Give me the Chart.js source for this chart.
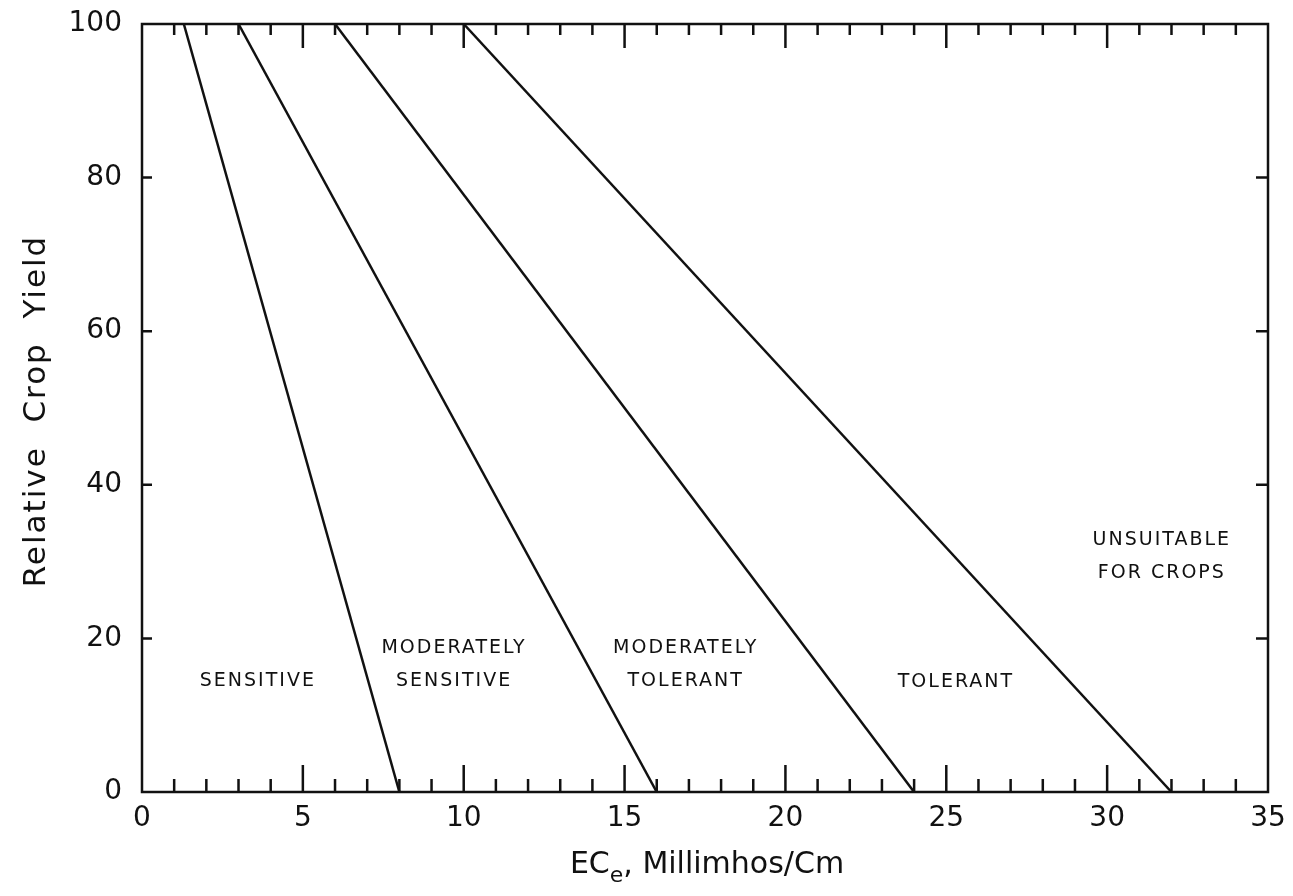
<!DOCTYPE html>
<html>
<head>
<meta charset="utf-8">
<script src="https://cdn.jsdelivr.net/npm/chart.js@4.4.1/dist/chart.umd.min.js"></script>
<style>
  html, body { margin: 0; padding: 0; background: #fff; }
  #wrap { width: 1293px; height: 896px; }
</style>
</head>
<body>
<div id="wrap"><canvas id="chart" width="1293" height="896"></canvas></div>
<script>
// salinity classes: yield 100% at threshold EC, 0% at zero-yield EC
const classNames = ['Sensitive', 'Moderately sensitive', 'Moderately tolerant', 'Tolerant'];
const thresholdEC = [1.3, 3, 6, 10];
const zeroYieldEC = [8, 16, 24, 32];
const yieldAtThreshold = [100, 100, 100, 100];

const xTickLabels = [0, 5, 10, 15, 20, 25, 30, 35];
const yTickLabels = [0, 20, 40, 60, 80, 100];

// zone labels (text lines and where they sit, in data units)
const zoneLabels = [
    { lines: ['SENSITIVE'], x: 3.6, y: 14.5 },
    { lines: ['MODERATELY', 'SENSITIVE'], x: 9.7, y: 16.6 },
    { lines: ['MODERATELY', 'TOLERANT'], x: 16.9, y: 16.6 },
    { lines: ['TOLERANT'], x: 25.3, y: 14.3 },
    { lines: ['UNSUITABLE', 'FOR CROPS'], x: 31.7, y: 30.7 }
];

const FONT = '"DejaVu Sans", sans-serif';

const datasets = classNames.map((name, i) => ({
    label: name,
    data: [
        { x: thresholdEC[i], y: yieldAtThreshold[i] },
        { x: zeroYieldEC[i], y: 0 }
    ],
    borderColor: '#111',
    borderWidth: 2.5,
    pointRadius: 0,
    fill: false,
    tension: 0
}));

// frame, inward ticks, axis titles and zone labels
const framePlugin = {
    id: 'frame',
    afterDraw(chart) {
        const ctx = chart.ctx;
        const xs = chart.scales.x;
        const ys = chart.scales.y;
        const area = chart.chartArea;

        ctx.save();
        ctx.strokeStyle = '#111';
        ctx.lineWidth = 2.5;
        ctx.strokeRect(area.left, area.top, area.right - area.left, area.bottom - area.top);

        // x ticks every unit, longer at every 5
        for (let v = 1; v < 35; v++) {
            const px = xs.getPixelForValue(v);
            const major = v % 5 === 0;
            ctx.beginPath();
            ctx.moveTo(px, area.top);
            ctx.lineTo(px, area.top + (major ? 24 : 11));
            ctx.moveTo(px, area.bottom);
            ctx.lineTo(px, area.bottom - (major ? 27 : 13));
            ctx.stroke();
        }
        // y ticks on both sides
        yTickLabels.slice(1, -1).forEach(v => {
            const py = ys.getPixelForValue(v);
            ctx.beginPath();
            ctx.moveTo(area.left, py);
            ctx.lineTo(area.left + 10, py);
            ctx.moveTo(area.right, py);
            ctx.lineTo(area.right - 12, py);
            ctx.stroke();
        });

        ctx.fillStyle = '#111';
        // x title with subscript
        ctx.textBaseline = 'alphabetic';
        ctx.textAlign = 'left';
        const big = '30px ' + FONT;
        const small = '22px ' + FONT;
        ctx.font = big;
        const w1 = ctx.measureText('EC').width;
        const w3 = ctx.measureText(', Millimhos/Cm').width;
        ctx.font = small;
        const w2 = ctx.measureText('e').width;
        const total = w1 + w2 + w3;
        const x0 = 707 - total / 2;
        const base = 873;
        ctx.font = big;
        ctx.fillText('EC', x0, base);
        ctx.font = small;
        ctx.fillText('e', x0 + w1, base + 9);
        ctx.font = big;
        ctx.fillText(', Millimhos/Cm', x0 + w1 + w2, base);

        // y title
        ctx.save();
        ctx.translate(37, 411);
        ctx.rotate(-Math.PI / 2);
        ctx.textAlign = 'center';
        ctx.textBaseline = 'middle';
        ctx.font = '31px ' + FONT;
        ctx.letterSpacing = '2px';
        ctx.fillText('Relative  Crop  Yield', 0, 0);
        ctx.restore();

        // zone labels
        ctx.font = '19px ' + FONT;
        ctx.letterSpacing = '2px';
        ctx.textAlign = 'center';
        ctx.textBaseline = 'middle';
        zoneLabels.forEach(z => {
            const px = xs.getPixelForValue(z.x);
            const py = ys.getPixelForValue(z.y);
            const gap = 33;
            const start = py - (z.lines.length - 1) * gap / 2;
            z.lines.forEach((t, k) => ctx.fillText(t, px, start + k * gap));
        });
        ctx.restore();
    }
};

new Chart(document.getElementById('chart'), {
    type: 'line',
    data: { datasets },
    plugins: [framePlugin],
    options: {
        responsive: false,
        animation: false,
        layout: { padding: { top: 24, right: 25, bottom: 0, left: 0 } },
        plugins: {
            legend: { display: false },
            tooltip: { enabled: false }
        },
        scales: {
            x: {
                type: 'linear',
                min: 0,
                max: 35,
                afterBuildTicks: scale => {
                    scale.ticks = xTickLabels.map(v => ({ value: v }));
                },
                afterFit: scale => { scale.height = 104; },
                grid: { display: false },
                border: { display: false },
                ticks: {
                    color: '#111',
                    font: { family: FONT, size: 28 },
                    padding: 2,
                    maxRotation: 0,
                    autoSkip: false
                }
            },
            y: {
                type: 'linear',
                min: 0,
                max: 100,
                afterBuildTicks: scale => {
                    scale.ticks = yTickLabels.map(v => ({ value: v }));
                },
                afterFit: scale => {
                    scale.width = 142;
                    scale.paddingTop = 0;
                    scale.paddingBottom = 0;
                },
                grid: { display: false },
                border: { display: false },
                ticks: {
                    color: '#111',
                    font: { family: FONT, size: 28 },
                    padding: 12,
                    autoSkip: false
                }
            }
        }
    }
});
</script>
</body>
</html>
